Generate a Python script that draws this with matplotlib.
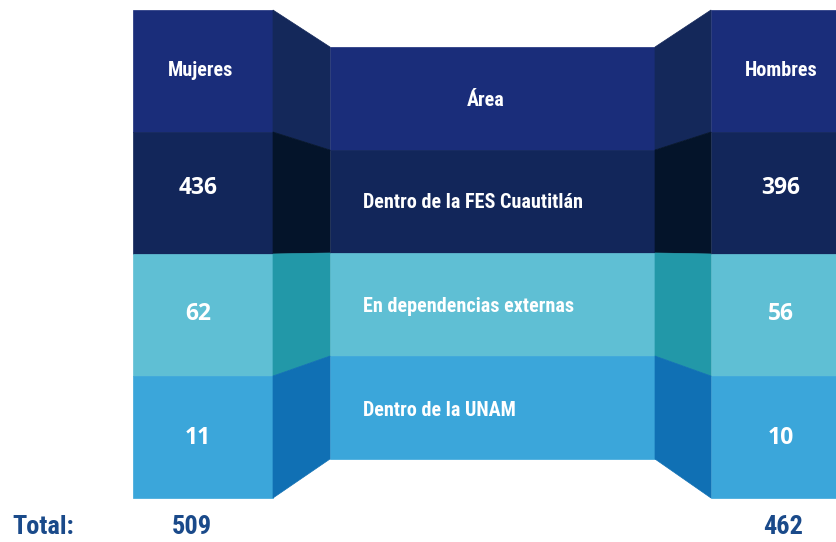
import matplotlib
matplotlib.use('Agg')
import matplotlib.pyplot as plt
from matplotlib.patches import Polygon
from matplotlib import font_manager

# data
areas = ['Dentro de la FES Cuautitlán', 'En dependencias externas', 'Dentro de la UNAM']
mujeres = [436, 62, 11]
hombres = [396, 56, 10]
total_mujeres = 509
total_hombres = 462

# colours: header, then one per row (face, side)
face_cols = ['#1a2d7a', '#12265a', '#5fbfd4', '#3ba6da']
side_cols = ['#14285a', '#04142a', '#2298a8', '#1070b4']
blue_txt = '#1a4a8a'

# narrowest family that is installed
names = set(f.name for f in font_manager.fontManager.ttflist)
narrow = 'Roboto'
for n in ['Roboto Condensed', 'Liberation Sans Narrow', 'Open Sans Condensed', 'DejaVu Sans Condensed']:
    if n in names:
        narrow = n
        break
cond = narrow != 'Roboto'
fs = 14.5 if cond else 11.5
fs_tot = 19 if cond else 15.5

W, H = 837, 542
fig = plt.figure(figsize=(W/100, H/100), dpi=100)
ax = fig.add_axes([0, 0, 1, 1])
ax.set_xlim(0, W)
ax.set_ylim(H, 0)
ax.axis('off')

# layout (pixels)
lx0, lx1 = 133, 273
mx0, mx1 = 330, 655
rx0, rx1 = 711, 837
top_side, h_side = 10, 122
top_mid, h_mid = 47, 103

for i in range(4):
    ys0, ys1 = top_side + i*h_side, top_side + (i+1)*h_side
    ym0, ym1 = top_mid + i*h_mid, top_mid + (i+1)*h_mid
    fc, sc = face_cols[i], side_cols[i]
    ax.add_patch(Polygon([(lx0, ys0), (lx1, ys0), (lx1, ys1), (lx0, ys1)], closed=True, fc=fc, ec=fc, lw=0.5))
    ax.add_patch(Polygon([(rx0, ys0), (rx1, ys0), (rx1, ys1), (rx0, ys1)], closed=True, fc=fc, ec=fc, lw=0.5))
    ax.add_patch(Polygon([(mx0, ym0), (mx1, ym0), (mx1, ym1), (mx0, ym1)], closed=True, fc=fc, ec=fc, lw=0.5))
    ax.add_patch(Polygon([(lx1, ys0), (mx0, ym0), (mx0, ym1), (lx1, ys1)], closed=True, fc=sc, ec=sc, lw=0.5))
    ax.add_patch(Polygon([(mx1, ym0), (rx0, ys0), (rx0, ys1), (mx1, ym1)], closed=True, fc=sc, ec=sc, lw=0.5))

ax.text(201, 70, 'Mujeres', color='white', fontsize=fs, family=narrow, weight='bold', ha='center', va='center')
ax.text(781, 70, 'Hombres', color='white', fontsize=fs, family=narrow, weight='bold', ha='center', va='center')
ax.text(486, 100, 'Área', color='white', fontsize=fs, family=narrow, weight='bold', ha='center', va='center')

row_y_side = [188, 314, 438]
row_y_mid = [203, 307, 410]
for i in range(3):
    ax.text(198, row_y_side[i], str(mujeres[i]), color='white', fontsize=16.5, family='Open Sans', weight='bold', ha='center', va='center')
    ax.text(781, row_y_side[i], str(hombres[i]), color='white', fontsize=16.5, family='Open Sans', weight='bold', ha='center', va='center')
    ax.text(363, row_y_mid[i], areas[i], color='white', fontsize=fs, family=narrow, weight='bold', ha='left', va='center')

ax.text(12, 527, 'Total:', color=blue_txt, fontsize=fs_tot, family=narrow, weight='bold', ha='left', va='center')
ax.text(192, 527, str(total_mujeres), color=blue_txt, fontsize=fs_tot, family=narrow, weight='bold', ha='center', va='center')
ax.text(783, 527, str(total_hombres), color=blue_txt, fontsize=fs_tot, family=narrow, weight='bold', ha='center', va='center')

fig.savefig('out.png', dpi=100)
